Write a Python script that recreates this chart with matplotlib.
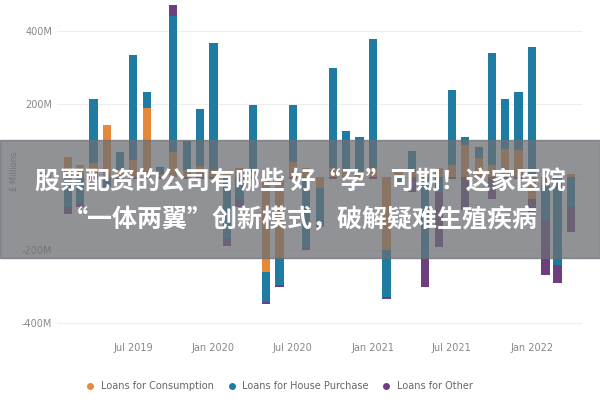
import matplotlib
matplotlib.use("Agg")
import matplotlib.pyplot as plt
import matplotlib.dates as mdates
import numpy as np
import pandas as pd
from matplotlib.patches import Rectangle

months = pd.date_range("2019-02-01", "2022-04-01", freq="MS")
consumption = [57,34,40,143,20,49,191,10,69,20,30,20,10,26,15,-260,-220,43,26,-30,26,20,15,25,-200,20,15,10,26,34,89,54,34,77,74,-60,-20,5,10]
house = [-80,-70,174,-20,49,285,43,19,372,80,156,349,-170,-60,182,-81,-75,154,-194,-100,274,106,96,355,-128,-10,56,-220,-40,206,22,29,306,137,160,357,-97,-240,-80]
other = [-20,-10,-5,-5,-5,-5,-5,-5,30,-5,-5,-5,-19,-20,-5,-5,-5,-5,-5,-5,-5,-5,-5,-5,-5,-5,-40,-80,-150,-5,-89,-5,-60,-5,-5,-40,-150,-50,-70]
series = [("Loans for Consumption", consumption, "#E8883A"),
          ("Loans for House Purchase", house, "#1E7CA3"),
          ("Loans for Other", other, "#6E3F7E")]
yticks = [-400, -200, 0, 200, 400]
yticklabels = ["-400M", "-200M", "0M", "200M", "400M"]

plt.rcParams['font.family'] = ['DejaVu Sans']
fig = plt.figure(figsize=(6, 4), dpi=100)
ax = fig.add_axes([0.095, 0.155, 0.875, 0.835])
x = mdates.date2num(months)
pos = np.zeros(len(x)); neg = np.zeros(len(x))
for name, vals, col in series:
    v = np.array(vals, float)
    bottom = np.where(v >= 0, pos, neg)
    ax.bar(x, v, bottom=bottom, width=19, color=col, label=name)
    pos += np.where(v >= 0, v, 0); neg += np.where(v < 0, v, 0)
ax.set_ylim(-440, 475)
ax.set_xlim(x[0] - 25, x[-1] + 25)
ax.set_yticks(yticks); ax.set_yticklabels(yticklabels)
ax.grid(axis='y', color='#eeeeee', lw=0.8); ax.set_axisbelow(True)
for s in ax.spines.values(): s.set_visible(False)
ax.tick_params(length=0, labelsize=7, colors='#888888')
ticks = pd.to_datetime(["2019-07-01","2020-01-01","2020-07-01","2021-01-01","2021-07-01","2022-01-01"])
ax.set_xticks(mdates.date2num(ticks))
ax.set_xticklabels([t.strftime("%b %Y") for t in ticks])
ax.set_ylabel("£ Millions", fontsize=6, color='#888888', labelpad=2)
h, l = ax.get_legend_handles_labels()
fig.legend(handles=[plt.Line2D([], [], marker='o', ls='', color=c, markersize=4) for _, _, c in series],
           labels=l, loc='lower left', bbox_to_anchor=(0.12, 0.0), ncol=3, frameon=False,
           fontsize=7, handletextpad=0.1, columnspacing=0.8, labelcolor='#666666')
fig.patches.append(Rectangle((0, 0.355), 1, 0.295, transform=fig.transFigure,
                             color='#6b6e73', alpha=0.75, zorder=5))
fig.text(0.5, 0.545, "股票配资的公司有哪些 好“孕”可期！这家医院", ha='center', va='center',
         color='white', fontsize=18, fontweight='bold', zorder=6,
         family=['Noto Sans CJK SC', 'DejaVu Sans'])
fig.text(0.5, 0.45, "“一体两翼”创新模式，破解疑难生殖疾病", ha='center', va='center',
         color='white', fontsize=18, fontweight='bold', zorder=6,
         family=['Noto Sans CJK SC', 'DejaVu Sans'])
fig.savefig("out.png", dpi=100)
